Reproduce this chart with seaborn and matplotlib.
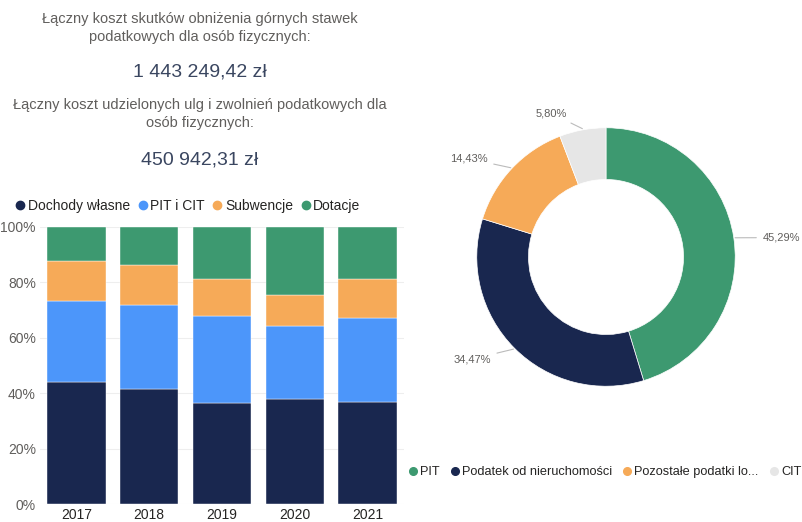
import matplotlib
matplotlib.use("Agg")
import matplotlib.pyplot as plt
from matplotlib.lines import Line2D
import numpy as np
import pandas as pd
import seaborn as sns

# bar chart data (share of budget revenue, %)
years = ["2017", "2018", "2019", "2020", "2021"]
dochody_wlasne = [43.9, 41.4, 36.4, 37.8, 37.0]
pit_cit = [29.4, 30.5, 31.4, 26.5, 30.1]
subwencje = [14.3, 14.4, 13.4, 11.2, 14.0]
dotacje = [12.4, 13.7, 18.8, 24.5, 18.9]
bar_series = ["Dochody własne", "PIT i CIT", "Subwencje", "Dotacje"]

# donut data
donut_labels = ["PIT", "Podatek od nieruchomości", "Pozostałe podatki lo...", "CIT"]
donut_values = [45.29, 34.47, 14.43, 5.80]

# header texts
head1 = "Łączny koszt skutków obniżenia górnych stawek\npodatkowych dla osób fizycznych:"
value1 = "1 443 249,42 zł"
head2 = "Łączny koszt udzielonych ulg i zwolnień podatkowych dla\nosób fizycznych:"
value2 = "450 942,31 zł"

navy = "#19274f"
blue = "#4c96fa"
orange = "#f6aa58"
green = "#3d9970"
grey = "#e6e6e6"
bar_colors = [navy, blue, orange, green]
donut_colors = [green, navy, orange, grey]

sns.set_theme(style="white")
plt.rcParams["font.family"] = ["Liberation Sans", "DejaVu Sans"]
txt = "#605e5c"

fig = plt.figure(figsize=(8.03, 5.22), dpi=100)

# header
fig.text(200 / 803, 1 - 28 / 522, head1, ha="center", va="center", fontsize=10.5,
         color=txt, linespacing=1.3)
fig.text(200 / 803, 1 - 72 / 522, value1, ha="center", va="center", fontsize=14,
         color="#3a4660")
fig.text(200 / 803, 1 - 114 / 522, head2, ha="center", va="center", fontsize=10.5,
         color=txt, linespacing=1.3)
fig.text(200 / 803, 1 - 160 / 522, value2, ha="center", va="center", fontsize=14,
         color="#3a4660")

# stacked bars
df = pd.DataFrame({"year": years, "Dochody własne": dochody_wlasne,
                   "PIT i CIT": pit_cit, "Subwencje": subwencje, "Dotacje": dotacje})
ax = fig.add_axes([40 / 803, 1 - 504 / 522, 364 / 803, 277 / 522])
bottom = np.zeros(len(years))
for name, col in zip(bar_series, bar_colors):
    sns.barplot(data=df, x="year", y=name, color=col, width=0.8, bottom=bottom,
                ax=ax, saturation=1, edgecolor="white", linewidth=0.3)
    bottom += df[name].to_numpy()
ax.set_ylim(0, 100)
ax.set_xlim(-0.5, 4.5)
ax.set_yticks([0, 20, 40, 60, 80, 100])
ax.set_yticklabels([f"{v}%" for v in [0, 20, 40, 60, 80, 100]])
ax.yaxis.grid(True, color="#eeeeee", linewidth=0.8)
ax.set_axisbelow(True)
ax.set_xlabel("")
ax.set_ylabel("")
ax.tick_params(axis="both", labelsize=10, colors=txt, length=0, pad=3)
ax.tick_params(axis="x", labelcolor="#252423")
for s in ax.spines.values():
    s.set_visible(False)

handles = [Line2D([], [], marker="o", ls="", color=c, markersize=6) for c in bar_colors]
fig.legend(handles, bar_series, loc="center", bbox_to_anchor=(187 / 803, 1 - 206 / 522),
           ncol=4, frameon=False, fontsize=10, handletextpad=0.05, columnspacing=0.4,
           labelcolor="#252423", handlelength=1)

# donut
ax2 = fig.add_axes([(606 - 168) / 803, (522 - 257 - 168) / 522, 336 / 803, 336 / 522])
wedges, _ = ax2.pie(donut_values, colors=donut_colors, startangle=90, counterclock=False,
                    radius=1, wedgeprops=dict(width=0.4, edgecolor="white", linewidth=0.5))
ax2.set_xlim(-1.3, 1.3)
ax2.set_ylim(-1.3, 1.3)
ax2.set_aspect("equal")
ax2.axis("off")

label_pos = [(1.21, 0.15, "left"), (-0.89, -0.79, "right"),
             (-0.915, 0.76, "right"), (-0.30, 1.11, "right")]
for w, v, (tx, ty, ha) in zip(wedges, donut_values, label_pos):
    ang = np.deg2rad((w.theta1 + w.theta2) / 2)
    x0, y0 = np.cos(ang) * 1.01, np.sin(ang) * 1.01
    ax2.annotate(f"{v:.2f}%".replace(".", ","), xy=(x0, y0), xytext=(tx, ty),
                 ha=ha, va="center", fontsize=8, color=txt,
                 arrowprops=dict(arrowstyle="-", color="#bbbbbb", lw=0.8,
                                 shrinkA=2, shrinkB=0))

handles2 = [Line2D([], [], marker="o", ls="", color=c, markersize=5.5) for c in donut_colors]
fig.legend(handles2, donut_labels, loc="center left", bbox_to_anchor=(404 / 803, 1 - 472 / 522),
           ncol=4, frameon=False, fontsize=9.2, handletextpad=0.05, columnspacing=0.7,
           labelcolor="#252423", handlelength=1, borderaxespad=0, borderpad=0.2)

fig.savefig("out.png", dpi=100)
